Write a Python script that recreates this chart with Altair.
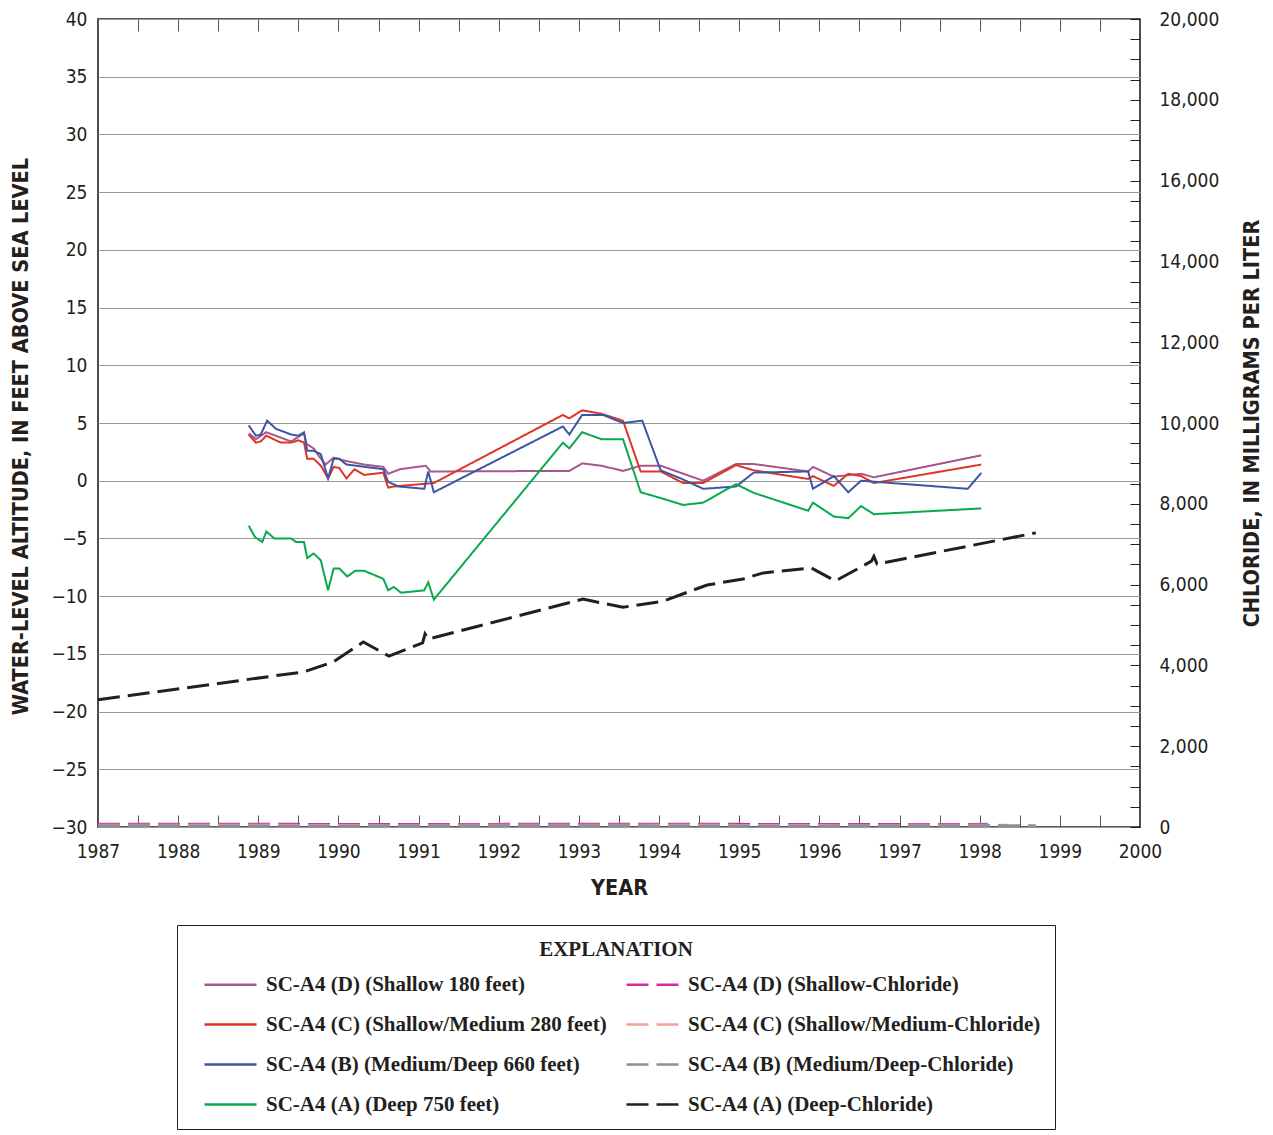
import altair as alt
import pandas as pd

# ---------------- data (decimal year) ----------------
# Water levels, feet above sea level
d_years = [1988.88, 1988.97, 1989.10, 1989.41, 1989.57, 1989.60, 1989.69, 1989.76, 1989.84, 1989.94,
           1990.10, 1990.32, 1990.56, 1990.62, 1990.77, 1991.09, 1991.15, 1992.88, 1993.04, 1993.28,
           1993.55, 1993.77, 1994.02, 1994.55, 1994.96, 1995.18, 1995.86, 1995.92, 1996.18, 1996.52,
           1996.68, 1998.02]
d_vals = [4.1, 3.6, 4.2, 3.4, 4.1, 3.2, 2.8, 2.1, 1.4, 2.0,
          1.7, 1.4, 1.2, 0.6, 1.0, 1.3, 0.8, 0.85, 1.5, 1.3,
          0.85, 1.3, 1.3, 0.0, 1.45, 1.45, 0.8, 1.2, 0.35, 0.6,
          0.3, 2.2]

c_years = [1988.88, 1988.97, 1989.03, 1989.10, 1989.28, 1989.41, 1989.50, 1989.57, 1989.61, 1989.69,
           1989.78, 1989.87, 1989.94, 1990.01, 1990.10, 1990.20, 1990.32, 1990.56, 1990.62, 1990.69,
           1991.19, 1992.80, 1992.88, 1993.04, 1993.28, 1993.55, 1993.77, 1994.02, 1994.30, 1994.55,
           1994.96, 1995.18, 1995.86, 1995.92, 1996.18, 1996.36, 1996.52, 1996.68, 1998.02]
c_vals = [4.0, 3.3, 3.4, 3.9, 3.3, 3.3, 3.5, 3.3, 1.9, 1.9,
          1.3, 0.2, 1.2, 1.1, 0.2, 1.0, 0.5, 0.7, -0.6, -0.5,
          -0.2, 5.7, 5.4, 6.1, 5.8, 5.2, 0.8, 0.8, -0.2, -0.2,
          1.35, 0.9, 0.15, 0.4, -0.45, 0.6, 0.4, -0.2, 1.4]

b_years = [1988.88, 1988.97, 1989.03, 1989.11, 1989.22, 1989.41, 1989.50, 1989.57, 1989.61, 1989.69,
           1989.78, 1989.87, 1989.94, 1990.01, 1990.10, 1990.56, 1990.62, 1990.75, 1991.07, 1991.12,
           1991.19, 1992.80, 1992.88, 1993.04, 1993.30, 1993.55, 1993.79, 1994.02, 1994.27, 1994.55,
           1994.96, 1995.18, 1995.86, 1995.92, 1996.18, 1996.36, 1996.52, 1997.85, 1998.02]
b_vals = [4.8, 3.9, 4.0, 5.2, 4.5, 4.0, 3.9, 4.2, 2.6, 2.6,
          2.3, 0.2, 1.9, 1.9, 1.4, 1.0, -0.1, -0.5, -0.7, 0.8,
          -1.0, 4.7, 4.0, 5.7, 5.7, 5.0, 5.2, 0.9, 0.2, -0.7,
          -0.5, 0.7, 0.8, -0.7, 0.4, -1.0, 0.0, -0.7, 0.67]

a_years = [1988.88, 1988.96, 1989.05, 1989.10, 1989.20, 1989.41, 1989.47, 1989.57, 1989.61, 1989.69,
           1989.78, 1989.87, 1989.94, 1990.01, 1990.11, 1990.21, 1990.32, 1990.56, 1990.62, 1990.69,
           1990.78, 1991.07, 1991.12, 1991.19, 1992.80, 1992.88, 1993.04, 1993.28, 1993.55, 1993.77,
           1994.02, 1994.30, 1994.55, 1994.96, 1995.18, 1995.86, 1995.92, 1996.18, 1996.36, 1996.52,
           1996.68, 1998.02]
a_vals = [-3.9, -4.9, -5.3, -4.4, -5.0, -5.0, -5.3, -5.3, -6.7, -6.3,
          -6.9, -9.5, -7.6, -7.6, -8.3, -7.8, -7.8, -8.5, -9.5, -9.2,
          -9.7, -9.5, -8.8, -10.3, 3.3, 2.8, 4.2, 3.6, 3.6, -1.0,
          -1.5, -2.1, -1.9, -0.3, -1.05, -2.6, -1.9, -3.1, -3.25, -2.2,
          -2.9, -2.4]

# Chloride, milligrams per liter
cl_d_years = [1987.0, 1989.6, 1991.2, 1993.0, 1995.0, 1997.0, 1998.1]
cl_d_vals = [70, 65, 60, 70, 65, 60, 65]
cl_c_years = [1987.0, 1989.6, 1991.2, 1993.0, 1995.0, 1997.0, 1998.35]
cl_c_vals = [45, 40, 40, 45, 40, 40, 45]
cl_b_years = [1987.0, 1989.6, 1991.2, 1993.0, 1995.0, 1997.0, 1998.7]
cl_b_vals = [30, 25, 30, 30, 25, 30, 30]
cl_a_years = [1987.0, 1989.57, 1989.94, 1990.31, 1990.63, 1991.05, 1991.08, 1991.12, 1993.05, 1993.55,
              1994.05, 1994.6, 1995.05, 1995.3, 1995.9, 1996.2, 1996.65, 1996.68, 1996.72, 1998.7]
cl_a_vals = [3150, 3840, 4090, 4580, 4230, 4560, 4780, 4650, 5640, 5440,
             5590, 5990, 6140, 6290, 6410, 6090, 6580, 6700, 6510, 7280]

# legend order (filled column by column: water levels, then chloride)
names = ["SC-A4 (D) (Shallow 180 feet)", "SC-A4 (C) (Shallow/Medium 280 feet)",
         "SC-A4 (B) (Medium/Deep 660 feet)", "SC-A4 (A) (Deep 750 feet)",
         "SC-A4 (D) (Shallow-Chloride)", "SC-A4 (C) (Shallow/Medium-Chloride)",
         "SC-A4 (B) (Medium/Deep-Chloride)", "SC-A4 (A) (Deep-Chloride)"]
colors = ["#a8578a", "#e03426", "#3c55a5", "#0aa84f", "#d42a9c", "#f2a29c", "#8a9099", "#231f20"]
dashes = [[1, 0], [1, 0], [1, 0], [1, 0], [22, 8], [22, 8], [22, 8], [22, 8]]

x_ticks = [1987 + 0.5 * i for i in range(27)]
left_ticks = list(range(-30, 41, 5))
right_ticks = list(range(0, 20001, 500))


def frame(years, vals, name, order):
    return pd.DataFrame({"year": years, "value": vals, "series": name, "ord": order})


water = pd.concat([
    frame(d_years, d_vals, names[0], 0),
    frame(c_years, c_vals, names[1], 1),
    frame(b_years, b_vals, names[2], 2),
    frame(a_years, a_vals, names[3], 3),
], ignore_index=True)

chloride = pd.concat([
    frame(cl_d_years, cl_d_vals, names[4], 0),
    frame(cl_c_years, cl_c_vals, names[5], 1),
    frame(cl_b_years, cl_b_vals, names[6], 2),
    frame(cl_a_years, cl_a_vals, names[7], 3),
], ignore_index=True)

LABEL_FONT = "Liberation Sans Narrow, DejaVu Sans Condensed, Roboto Condensed, Arial Narrow, sans-serif"
SERIF = "Liberation Serif, Times New Roman, serif"

color_scale = alt.Scale(domain=names, range=colors)
dash_scale = alt.Scale(domain=names, range=dashes)

legend = alt.Legend(
    orient="none", legendX=79, legendY=906, columns=2,
    title="EXPLANATION", titleAnchor="middle", titleFont=SERIF, titleFontSize=21,
    titleFontWeight="bold", titleColor="#231f20", titlePadding=10,
    labelFont=SERIF, labelFontSize=21, labelFontWeight="bold", labelColor="#231f20",
    labelLimit=700, labelOffset=21, symbolOffset=25,
    symbolType="M-2,0H2", symbolSize=676, symbolStrokeWidth=2.5,
    rowPadding=15, columnPadding=6, padding=14,
    strokeColor="#231f20", fillColor="white",
)

x_bottom = alt.X(
    "year:Q",
    scale=alt.Scale(domain=[1987, 2000], nice=False, zero=False),
    axis=alt.Axis(
        orient="bottom", values=x_ticks, offset=-12, tickSize=12, tickColor="#555555",
        domain=False, grid=False, labelOverlap=False, labelFlush=False,
        labelExpr="datum.value % 1 === 0 ? format(datum.value, 'd') : ''",
        labelPadding=15, title="YEAR", titlePadding=16,
    ),
)
x_top = alt.X(
    "year:Q",
    scale=alt.Scale(domain=[1987, 2000], nice=False, zero=False),
    axis=alt.Axis(
        orient="top", values=x_ticks, offset=-12, tickSize=12, tickColor="#555555",
        domain=False, grid=False, labels=False, title=None,
    ),
)

water_layer = alt.Chart(water).mark_line(strokeWidth=2, strokeCap="butt").encode(
    x=x_bottom,
    y=alt.Y(
        "value:Q",
        scale=alt.Scale(domain=[-30, 40], nice=False, zero=False),
        axis=alt.Axis(
            orient="left", values=left_ticks, grid=True, gridColor="#9a9a9a", gridWidth=1.2,
            tickSize=0, domain=False, labelPadding=11,
            title="WATER-LEVEL ALTITUDE, IN FEET ABOVE SEA LEVEL", titlePadding=18,
            titleY=417,
        ),
    ),
    color=alt.Color("series:N", scale=color_scale, legend=legend),
    strokeDash=alt.StrokeDash("series:N", scale=dash_scale, legend=legend),
    order="ord:Q",
    detail="series:N",
)

chloride_layer = alt.Chart(chloride).mark_line(strokeWidth=3, strokeCap="butt").encode(
    x=x_top,
    y=alt.Y(
        "value:Q",
        scale=alt.Scale(domain=[0, 20000], nice=False, zero=False),
        axis=alt.Axis(
            orient="right", values=right_ticks, offset=-10, tickSize=10, tickColor="#231f20",
            domain=False, grid=False, labelOverlap=False, labelFlush=False,
            labelExpr="datum.value % 2000 === 0 ? format(datum.value, ',') : ''",
            labelPadding=19, title="CHLORIDE, IN MILLIGRAMS PER LITER",
            titleAngle=270, titleBaseline="top", titlePadding=23,
        ),
    ),
    color=alt.Color("series:N", scale=color_scale, legend=legend),
    strokeDash=alt.StrokeDash("series:N", scale=dash_scale, legend=legend),
    detail="series:N",
)

chart = alt.layer(water_layer, chloride_layer).resolve_scale(
    y="independent"
).resolve_axis(
    x="independent"
).properties(
    width=1042, height=808, padding={"left": 2, "top": 2, "right": 0, "bottom": 0},
).configure_view(
    stroke="#231f20", strokeWidth=1.6,
).configure_axis(
    labelFont=LABEL_FONT, labelFontSize=19, labelColor="#231f20",
    titleFont=LABEL_FONT, titleFontSize=21.5, titleFontWeight="bold", titleColor="#231f20",
)

chart.save("out.html", embed_options={"renderer": "svg", "actions": False})
